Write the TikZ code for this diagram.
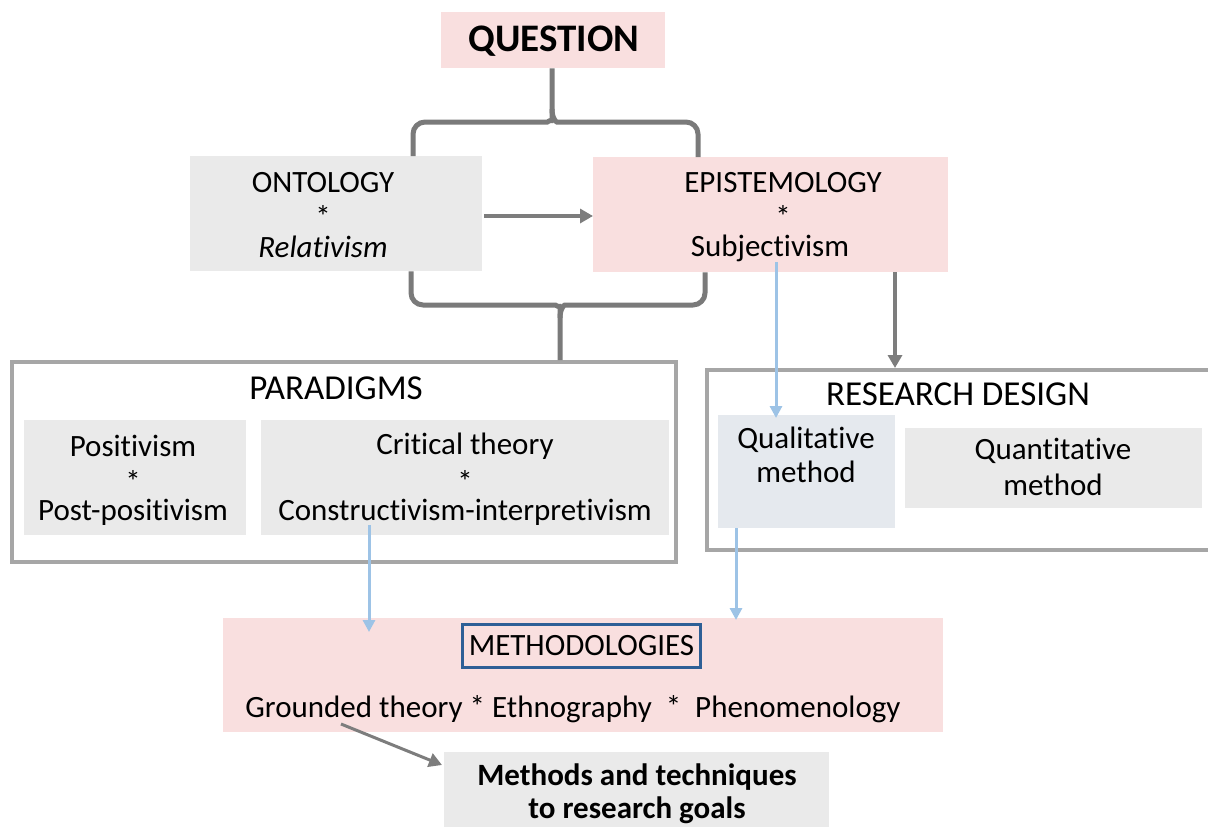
\documentclass[tikz,border=0pt]{standalone}
\usepackage{fontspec}
\setmainfont{Carlito}[Ligatures={NoCommon}]
\usetikzlibrary{arrows.meta,calc}
\definecolor{pinkfill}{RGB}{249,223,223}
\definecolor{grayfill}{RGB}{234,234,234}
\definecolor{qualfill}{RGB}{229,233,238}
\definecolor{framegray}{RGB}{166,166,166}
\definecolor{bracegray}{RGB}{122,122,122}
\definecolor{arrowgray}{RGB}{125,125,125}
\definecolor{lightblue}{RGB}{157,195,230}
\definecolor{darkblue}{RGB}{46,95,150}
\tikzset{
  box/.style={rectangle, inner sep=0pt, anchor=north west},
  pinkbox/.style={box, fill=pinkfill},
  graybox/.style={box, fill=grayfill},
  framebox/.style={box, draw=framegray, line width=4pt, fill=white},
  txt/.style={inner sep=0pt, font=\fontsize{31}{36}\selectfont},
  title/.style={inner sep=0pt, font=\fontsize{35}{40}\selectfont},
  boldtxt/.style={inner sep=0pt, font=\fontsize{31}{36}\selectfont\bfseries},
  brace/.style={draw=bracegray, line width=5pt, line join=round, rounded corners=12pt},
  grayarrow/.style={draw=arrowgray, line width=4pt, -{Triangle[length=13pt,width=14pt]}},
  bluearrow/.style={draw=lightblue, line width=3pt, -{Triangle[length=12pt,width=12pt]}}
}
\begin{document}
\begin{tikzpicture}[x=1pt,y=-1pt]
\useasboundingbox (0,0) rectangle (1208,827);
\clip (0,0) rectangle (1208,827);

% question
\node[pinkbox, minimum width=224pt, minimum height=56pt] (q) at (441,12) {};
\node[inner sep=0pt, font=\fontsize{39}{44}\selectfont\bfseries] (qt) at (554,41) {QUESTION};

% ontology and epistemology
\node[graybox, minimum width=292pt, minimum height=115pt] (onto) at (190,156) {};
\node[txt] (ontot) at (323,183) {ONTOLOGY};
\node[txt] (ontos) at (323,216) {*};
\node[txt, font=\fontsize{31}{36}\selectfont\itshape] (ontor) at (323,247) {Relativism};

\node[pinkbox, minimum width=355pt, minimum height=115pt] (epi) at (593,157) {};
\node[txt] (epit) at (783,183) {EPISTEMOLOGY};
\node[txt] (epis) at (783,216) {*};
\node[txt] (epir) at (770,248) {Subjectivism};

% paradigms
\node[framebox, minimum width=664pt, minimum height=200pt] (par) at (10,360) {};
\node[title] (part) at (336,388) {PARADIGMS};
\node[graybox, minimum width=222pt, minimum height=115pt] (pos) at (24,420) {};
\node[txt] (pos1) at (133,446) {Positivism};
\node[txt] (pos2) at (133,481) {*};
\node[txt] (pos3) at (133,512) {Post-positivism};
\node[graybox, minimum width=408pt, minimum height=115pt] (crit) at (261,420) {};
\node[txt] (crit1) at (465,446) {Critical theory};
\node[txt] (crit2) at (465,481) {*};
\node[txt] (crit3) at (465,512) {Constructivism-interpretivism};

% research design
\node[framebox, minimum width=520pt, minimum height=180pt] (rd) at (705,368) {};
\node[title] (rdt) at (958,394) {RESEARCH DESIGN};
\node[box, fill=qualfill, minimum width=177pt, minimum height=113pt] (qual) at (718,415) {};
\node[txt] (qual1) at (806,440) {Qualitative};
\node[txt] (qual2) at (806,472) {method};
\node[graybox, minimum width=297pt, minimum height=80pt] (quan) at (905,428) {};
\node[txt] (quan1) at (1053,451) {Quantitative};
\node[txt] (quan2) at (1053,485) {method};

% methodologies
\node[pinkbox, minimum width=720pt, minimum height=114pt] (meth) at (223,618) {};
\node[box, draw=darkblue, line width=3pt, minimum width=238pt, minimum height=43pt] (methb) at (461,623) {};
\node[txt] (metht) at (methb.center) {METHODOLOGIES};
\node[txt] (methl) at (573,709) {Grounded theory * Ethnography \ * \ Phenomenology};

% methods and techniques
\node[graybox, minimum width=385pt, minimum height=90pt] (tech) at (444,752) {};
\node[boldtxt] (tech1) at (637,777) {Methods and techniques};
\node[boldtxt] (tech2) at (637,810) {to research goals};

% braces
\draw[brace] (onto.north -| 413,0) -- (413,122) -- (536,122)
  .. controls (547,122) and (552,119) .. (552,109) -- (q.south -| 552,0);
\draw[brace] (epi.north -| 698,0) -- (698,122) -- (568,122)
  .. controls (557,122) and (552,119) .. (552,109);
\draw[brace] (onto.south -| 411,0) -- (411,305) -- (544,305)
  .. controls (555,305) and (560,308) .. (560,318) -- (par.north -| 560,0);
\draw[brace] (epi.south -| 705,0) -- (705,305) -- (576,305)
  .. controls (565,305) and (560,308) .. (560,318);

% connectors
\draw[grayarrow] ($(onto.east |- ontos)+(2,0)$) -- (epi.west |- ontos);
\draw[grayarrow] (epi.south -| 895,0) -- (rd.north -| 895,0);
\draw[bluearrow] (776,262) -- ($(qual.north -| 776,0)+(0,3)$);
\draw[bluearrow] ($(crit.south -| 369,0)+(0,-10)$) -- ($(meth.north -| 369,0)+(0,14)$);
\draw[bluearrow] (qual.south -| 736,0) -- ($(meth.north -| 736,0)+(0,2)$);
\draw[grayarrow, line width=3pt] (341,724) -- ($(tech.north west)+(-2,13)$);
\end{tikzpicture}
\end{document}
